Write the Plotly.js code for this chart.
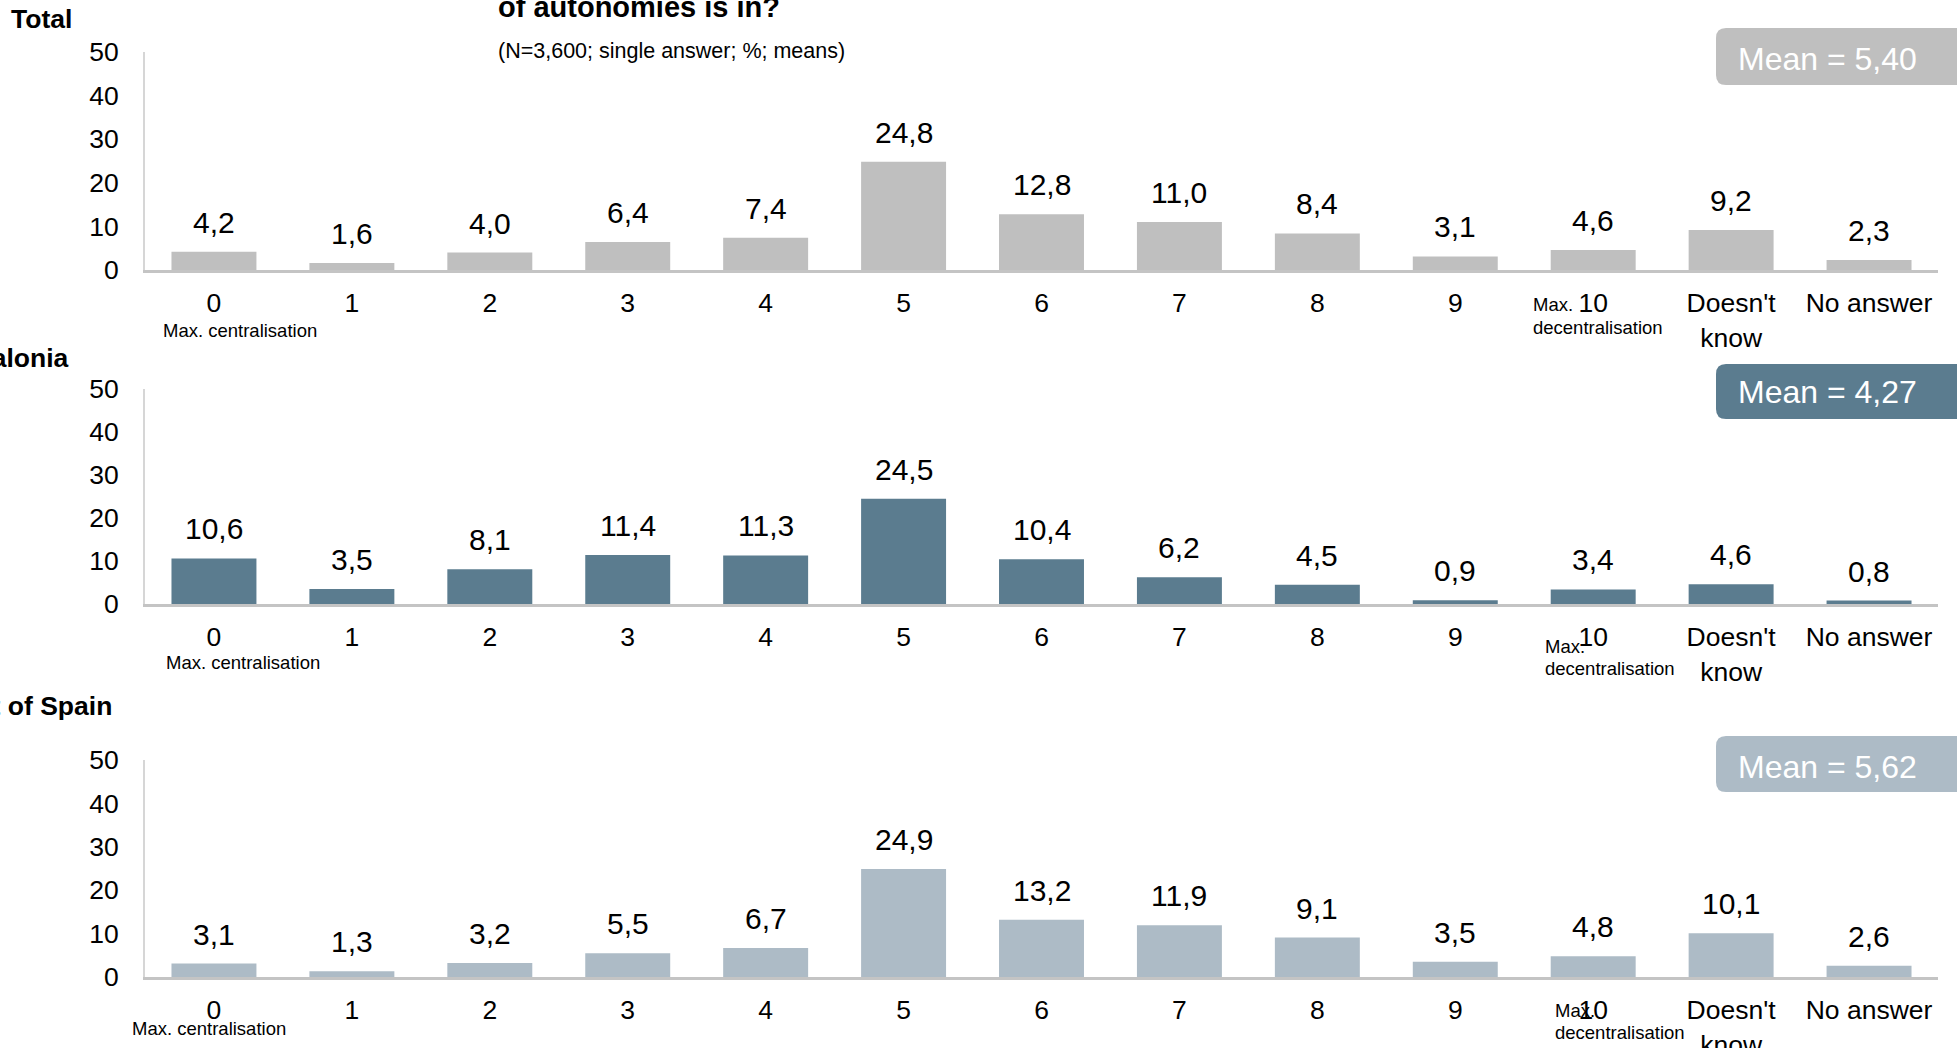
<!DOCTYPE html>
<html>
<head>
<meta charset="utf-8">
<script src="https://cdn.plot.ly/plotly-3.0.1.min.js"></script>
<style>html,body{margin:0;padding:0;background:#fff;}#chart{width:1957px;height:1048px;}</style>
</head>
<body>
<div id="chart"></div>
<script>
// ---- data ----
const categories = ["0","1","2","3","4","5","6","7","8","9","10","Doesn't<br>know","No answer"];
const totalValues = [4.2,1.6,4.0,6.4,7.4,24.8,12.8,11.0,8.4,3.1,4.6,9.2,2.3];
const cataloniaValues = [10.6,3.5,8.1,11.4,11.3,24.5,10.4,6.2,4.5,0.9,3.4,4.6,0.8];
const restValues = [3.1,1.3,3.2,5.5,6.7,24.9,13.2,11.9,9.1,3.5,4.8,10.1,2.6];
const panelTitles = ["Total","Catalonia","Rest of Spain"];
const meanLabels = ["Mean = 5,40","Mean = 4,27","Mean = 5,62"];
const yTicks = [0,10,20,30,40,50];
const titleText = "of autonomies is in?";
const subtitleText = "(N=3,600; single answer; %; means)";

// ---- layout helpers ----
const W = 1957, H = 1048;
const FONT = '"Liberation Sans", Arial, Helvetica, sans-serif';
const X = p => p / W, Y = p => 1 - p / H;
const colors = ["#bfbfbf","#5b7c8f","#adbbc6"];
const series = [totalValues, cataloniaValues, restValues];
// pixel geometry of each panel: [top(50), bottom(0)]
const panels = [[52,270],[389,604],[760,977]];
const xDom = [X(145), X(1938)];

const fmt = v => v.toFixed(1).replace('.', ',');

const data = [];
const annotations = [];
const shapes = [];
const layout = {
  width: W, height: H,
  margin: {l:0,r:0,t:0,b:0},
  paper_bgcolor: '#fff', plot_bgcolor: 'rgba(0,0,0,0)',
  showlegend: false,
  bargap: 0.384,
  font: {family: FONT, color: '#000'},
  annotations: annotations,
  shapes: shapes
};

series.forEach((vals, i) => {
  const sfx = i === 0 ? '' : String(i + 1);
  const xa = 'x' + sfx, ya = 'y' + sfx;
  data.push({
    type: 'bar', x: categories, y: vals, xaxis: xa, yaxis: ya,
    marker: {color: colors[i], line: {width: 0}},
    hoverinfo: 'skip', cliponaxis: false
  });
  const [top, bot] = panels[i];
  layout['xaxis' + sfx] = {
    domain: xDom, anchor: ya, type: 'category',
    categoryorder: 'array', categoryarray: categories,
    showgrid: false, zeroline: false,
    showline: true, linecolor: '#c4c4c4', linewidth: 2.5,
    ticks: 'outside', ticklen: 8, tickcolor: 'rgba(0,0,0,0)',
    tickfont: {size: 26.5, family: FONT, color: '#000'},
    fixedrange: true
  };
  layout['yaxis' + sfx] = {
    domain: [Y(bot), Y(top)], anchor: xa, range: [0, 50],
    tickvals: yTicks, ticktext: yTicks.map(String),
    showgrid: false, zeroline: false,
    showline: true, linecolor: '#d6d6d6', linewidth: 2,
    ticks: 'outside', ticklen: 19, tickcolor: 'rgba(0,0,0,0)',
    tickfont: {size: 26.5, family: FONT, color: '#000'},
    fixedrange: true
  };
  // value labels
  vals.forEach((v, k) => {
    annotations.push({
      xref: xa, yref: ya, x: categories[k], y: v,
      text: fmt(v), showarrow: false, yanchor: 'bottom', yshift: 11,
      font: {size: 30, family: FONT, color: '#000'}
    });
  });
});

// panel titles
annotations.push({xref:'paper',yref:'paper',x:X(9),y:Y(19),xanchor:'left',yanchor:'middle',
  text:'<b>'+panelTitles[0]+'</b>',showarrow:false,font:{size:26.5,family:FONT,color:'#000'}});
annotations.push({xref:'paper',yref:'paper',x:X(71),y:Y(358),xanchor:'right',yanchor:'middle',
  text:'<b>'+panelTitles[1]+'</b>',showarrow:false,font:{size:26.5,family:FONT,color:'#000'}});
annotations.push({xref:'paper',yref:'paper',x:X(114),y:Y(706),xanchor:'right',yanchor:'middle',
  text:'<b>'+panelTitles[2]+'</b>',showarrow:false,font:{size:26.5,family:FONT,color:'#000'}});

// main title (cut at top) and subtitle
annotations.push({xref:'paper',yref:'paper',x:X(496),y:Y(7),xanchor:'left',yanchor:'middle',
  text:'<b>'+titleText+'</b>',showarrow:false,font:{size:29,family:FONT,color:'#000'}});
annotations.push({xref:'paper',yref:'paper',x:X(496),y:Y(51),xanchor:'left',yanchor:'middle',
  text:subtitleText,showarrow:false,font:{size:21.5,family:FONT,color:'#000'}});

// mean boxes
function rr(x0,y0,x1,y1,r){
  return `M${X(x0+r)},${Y(y0)} L${X(x1)},${Y(y0)} L${X(x1)},${Y(y1)} L${X(x0+r)},${Y(y1)} `+
         `Q${X(x0)},${Y(y1)} ${X(x0)},${Y(y1-r)} L${X(x0)},${Y(y0+r)} Q${X(x0)},${Y(y0)} ${X(x0+r)},${Y(y0)} Z`;
}
const meanBoxes = [[28,85,59],[364,419,392],[736,792,767]];
meanBoxes.forEach((b, i) => {
  shapes.push({type:'path',xref:'paper',yref:'paper',path:rr(1716,b[0],1990,b[1],10),
    fillcolor:colors[i],line:{width:0},layer:'above'});
  annotations.push({xref:'paper',yref:'paper',x:X(1736),y:Y(b[2]),xanchor:'left',yanchor:'middle',
    text:meanLabels[i],showarrow:false,font:{size:32,family:FONT,color:'#fff'}});
});

// scale end notes
const small = {size:18.5,family:FONT,color:'#000'};
const centralPos = [[161,330],[164,662],[130,1028]];
centralPos.forEach(p => annotations.push({xref:'paper',yref:'paper',x:X(p[0]),y:Y(p[1]),
  xanchor:'left',yanchor:'middle',text:'Max. centralisation',showarrow:false,font:small}));
const maxPos = [[1531,305],[1543,646],[1553,1010]];
const decPos = [[1531,327],[1543,668],[1553,1032]];
maxPos.forEach(p => annotations.push({xref:'paper',yref:'paper',x:X(p[0]),y:Y(p[1]),
  xanchor:'left',yanchor:'middle',text:'Max.',showarrow:false,font:small}));
decPos.forEach(p => annotations.push({xref:'paper',yref:'paper',x:X(p[0]),y:Y(p[1]),
  xanchor:'left',yanchor:'middle',text:'decentralisation',showarrow:false,font:small}));

Plotly.newPlot('chart', data, layout, {displayModeBar:false, staticPlot:true});
</script>
</body>
</html>
